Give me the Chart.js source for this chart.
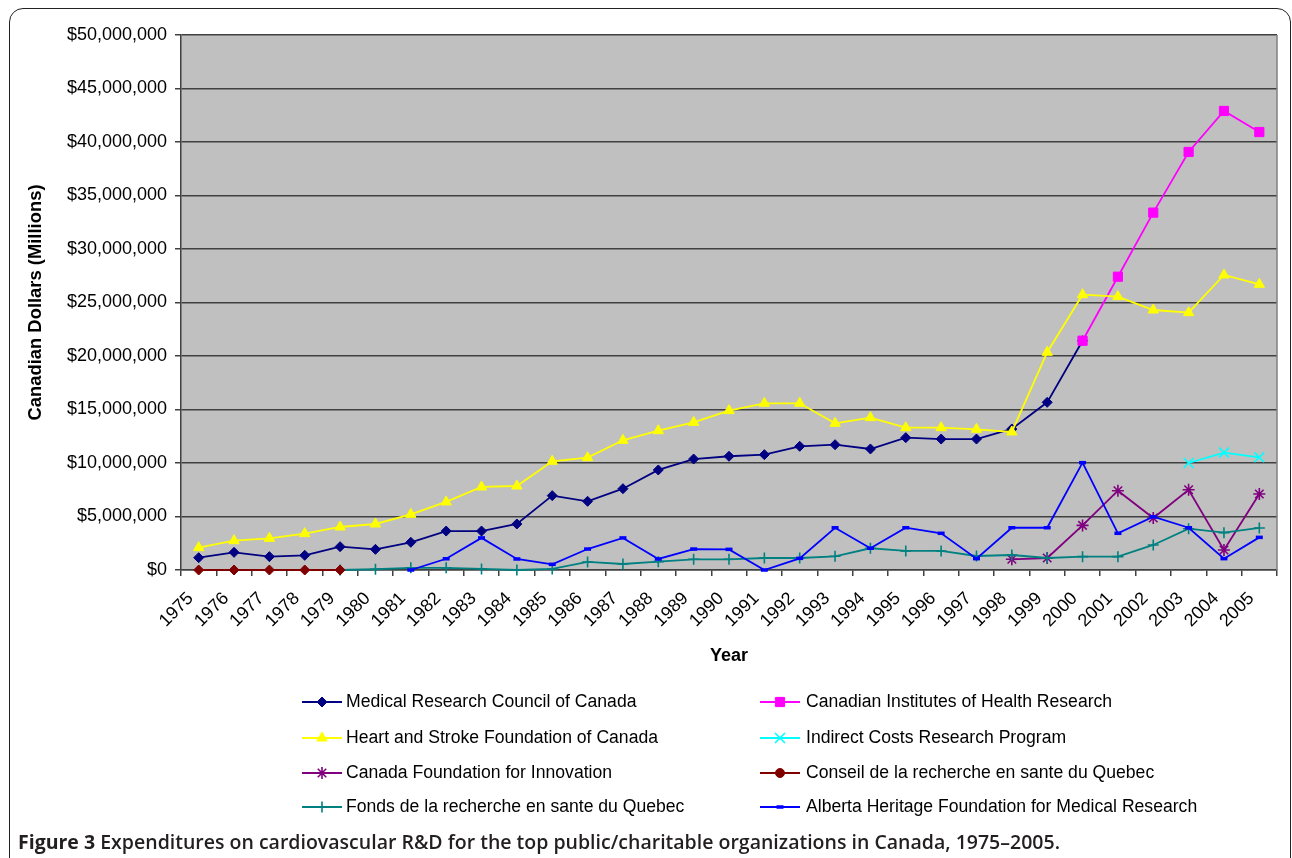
<!DOCTYPE html>
<html>
<head>
<meta charset="utf-8">
<script src="https://cdn.jsdelivr.net/npm/chart.js@4.4.1/dist/chart.umd.min.js"></script>
<style>
html, body { margin: 0; padding: 0; background: #fff; overflow: hidden; }
body { width: 1292px; height: 858px; position: relative; }
#frame {
  position: absolute; left: 9px; top: 8px; width: 1282px; height: 900px;
  box-sizing: border-box; border: 1.5px solid #222; border-radius: 14px;
}
#wrap { position: absolute; left: 0; top: 0; width: 1292px; height: 858px; }
#caption {
  position: absolute; left: 18px; top: 832px; white-space: nowrap; line-height: 20px;
  font-family: "Open Sans", "Liberation Sans", sans-serif; font-weight: 600;
  font-size: 19px; color: #231f20; transform-origin: left center;
}
#caption b { font-weight: 700; }
</style>
</head>
<body>
<div id="frame"></div>
<div id="wrap"><canvas id="chart"></canvas></div>
<div id="caption"><b>Figure 3</b> Expenditures on cardiovascular R&amp;D for the top public/charitable organizations in Canada, 1975–2005.</div>
<script>
// years on the x axis
const years = ["1975","1976","1977","1978","1979","1980","1981","1982","1983","1984",
  "1985","1986","1987","1988","1989","1990","1991","1992","1993","1994",
  "1995","1996","1997","1998","1999","2000","2001","2002","2003","2004","2005"]

// y axis ticks
const yMin = 0
const yMax = 50000000
const yStep = 5000000

// series, dollars per year (null = no data)
const mrc = [1150000,1650000,1250000,1370000,2180000,1930000,2590000,3640000,3640000,4300000,
  6950000,6420000,7600000,9350000,10370000,10630000,10780000,11560000,11710000,11310000,
  12370000,12240000,12240000,13180000,15670000,21430000,null,null,null,null,null]

const cihr = [null,null,null,null,null,null,null,null,null,null,
  null,null,null,null,null,null,null,null,null,null,
  null,null,null,null,null,21430000,27410000,33400000,39070000,42900000,40930000]

const hsf = [2090000,2740000,2960000,3400000,4020000,4300000,5200000,6360000,7760000,7850000,
  10160000,10500000,12120000,13020000,13800000,14900000,15580000,15580000,13710000,14240000,
  13300000,13300000,13150000,12900000,20350000,25730000,25550000,24300000,24050000,27570000,26700000]

const icrp = [null,null,null,null,null,null,null,null,null,null,
  null,null,null,null,null,null,null,null,null,null,
  null,null,null,null,null,null,null,null,10000000,10970000,10530000]

const cfi = [null,null,null,null,null,null,null,null,null,null,
  null,null,null,null,null,null,null,null,null,null,
  null,null,null,1000000,1120000,4170000,7410000,4860000,7500000,1870000,7100000]

const crsq = [0,0,0,0,0,null,null,null,null,null,
  null,null,null,null,null,null,null,null,null,null,
  null,null,null,null,null,null,null,null,null,null,null]

const frsq = [null,null,null,null,0,70000,200000,200000,100000,0,
  100000,750000,560000,780000,1000000,1000000,1120000,1120000,1280000,2030000,
  1780000,1780000,1310000,1400000,1120000,1250000,1250000,2340000,3860000,3490000,3930000]

const ahfmr = [null,null,null,null,null,null,0,1050000,3000000,1030000,
  530000,1960000,3000000,1030000,1960000,1930000,0,1090000,3950000,2030000,
  3950000,3430000,1060000,3950000,3950000,10030000,3430000,4980000,3950000,1060000,3050000]

const font = "'Liberation Sans', Arial, sans-serif"
const gridColor = "#404040"

function series(label, data, color, style, radius, extra){
  return Object.assign({
    label: label,
    data: data,
    borderColor: color,
    backgroundColor: color,
    borderWidth: 1.8,
    pointStyle: style,
    pointRadius: radius,
    pointHoverRadius: radius,
    pointBackgroundColor: color,
    pointBorderColor: color,
    pointBorderWidth: 1,
    tension: 0,
    spanGaps: false,
    clip: false
  }, extra || {})
}

const datasets = [
  series("Medical Research Council of Canada", mrc, "#000080", "rectRot", 5, {order: 10}),
  series("Canadian Institutes of Health Research", cihr, "#FF00FF", "rect", 6.5, {order: 9}),
  series("Heart and Stroke Foundation of Canada", hsf, "#FFFF00", "triangle", 6, {order: 8}),
  series("Indirect Costs Research Program", icrp, "#00FFFF", "crossRot", 7, {order: 7, pointBorderWidth: 1.6}),
  series("Canada Foundation for Innovation", cfi, "#800080", "star", 6, {order: 6, pointBorderWidth: 1.6}),
  series("Conseil de la recherche en sante du Quebec", crsq, "#800000", "rectRot", 5, {order: 0, legendStyle: "circle", legendRadius: 4.5}),
  series("Fonds de la recherche en sante du Quebec", frsq, "#008080", "cross", 5.5, {order: 4, pointBorderWidth: 1.6}),
  series("Alberta Heritage Foundation for Medical Research", ahfmr, "#0000FF", "line", 3.5, {order: 3, pointBorderWidth: 3.5})
]

// grey plot area + right border
const plotBg = {
  id: "plotBg",
  beforeDraw(chart){
    const {ctx, chartArea: a} = chart
    ctx.save()
    ctx.fillStyle = "#C0C0C0"
    ctx.fillRect(a.left, a.top, a.right - a.left, a.bottom - a.top)
    ctx.restore()
  },
  beforeDatasetsDraw(chart){
    const {ctx, chartArea: a} = chart
    ctx.save()
    ctx.strokeStyle = "#808080"
    ctx.lineWidth = 1.5
    ctx.beginPath()
    ctx.moveTo(a.right, a.top)
    ctx.lineTo(a.right, a.bottom)
    ctx.stroke()
    ctx.restore()
  }
}

// two column legend under the axis title
const legendRows = [702, 738, 773, 807]
const legendLineX = [302, 760]
const legendTextX = [346, 806]

const legendBox = {
  id: "legendBox",
  afterDraw(chart){
    const ctx = chart.ctx
    ctx.save()
    chart.data.datasets.forEach((ds, i)=>{
      const col = i % 2
      const y = legendRows[Math.floor(i / 2)]
      const x0 = legendLineX[col]
      ctx.strokeStyle = ds.borderColor
      ctx.lineWidth = 1.8
      ctx.beginPath()
      ctx.moveTo(x0, y)
      ctx.lineTo(x0 + 40, y)
      ctx.stroke()
      ctx.fillStyle = ds.pointBackgroundColor
      ctx.strokeStyle = ds.pointBorderColor
      ctx.lineWidth = ds.pointBorderWidth
      Chart.helpers.drawPoint(ctx, {
        pointStyle: ds.legendStyle || ds.pointStyle,
        radius: ds.legendRadius || ds.pointRadius,
        rotation: 0,
        borderWidth: ds.pointBorderWidth
      }, x0 + 20, y)
      ctx.fillStyle = "#000"
      ctx.font = "17.6px " + font
      ctx.textBaseline = "middle"
      ctx.textAlign = "left"
      ctx.fillText(ds.label, legendTextX[col], y)
    })
    ctx.restore()
  }
}

const chart = new Chart(document.getElementById("chart"), {
  type: "line",
  data: { labels: years, datasets: datasets },
  options: {
    responsive: true,
    maintainAspectRatio: false,
    animation: false,
    layout: { padding: { top: 35, right: 15, bottom: 188, left: 0 } },
    plugins: { legend: { display: false }, tooltip: { enabled: false } },
    scales: {
      x: {
        type: "category",
        offset: true,
        afterFit(scale){ scale.height = 100 },
        grid: { display: true, drawOnChartArea: false, drawTicks: true, offset: true,
          tickLength: 6, color: gridColor, lineWidth: 1.5 },
        border: { display: true, color: gridColor, width: 1.5 },
        ticks: { autoSkip: false, minRotation: 45, maxRotation: 45, color: "#000",
          padding: 12, labelOffset: -8, font: { family: font, size: 18 } },
        title: { display: true, text: "Year", color: "#000",
          padding: { top: 0, bottom: 3 }, font: { family: font, size: 18, weight: "bold" } }
      },
      y: {
        min: yMin,
        max: yMax,
        afterFit(scale){ scale.width = 181 },
        grid: { color: gridColor, lineWidth: 1.5, tickLength: 6 },
        border: { display: true, color: gridColor, width: 1.5 },
        ticks: { stepSize: yStep, color: "#000", padding: 8,
          font: { family: font, size: 18 },
          callback: v => "$" + Number(v).toLocaleString("en-US") },
        title: { display: true, text: "Canadian Dollars (Millions)", color: "#000",
          padding: { top: 25, bottom: 0 }, font: { family: font, size: 18.4, weight: "bold" } }
      }
    }
  },
  plugins: [plotBg, legendBox]
})

// caption squeezed to the reference width
const cap = document.getElementById("caption")
const w = cap.getBoundingClientRect().width
cap.style.transform = "scaleX(" + (1042 / w) + ")"
</script>
</body>
</html>
